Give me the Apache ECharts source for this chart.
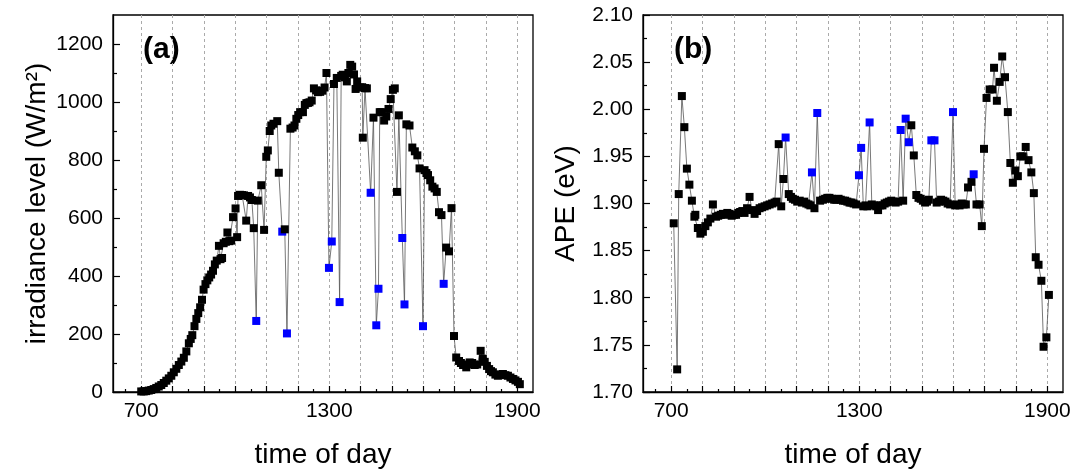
<!DOCTYPE html>
<html><head><meta charset="utf-8">
<script src="https://cdn.jsdelivr.net/npm/echarts@6/dist/echarts.min.js"></script>
<style>html,body{margin:0;padding:0;background:#fff}#c{width:1081px;height:476px}</style>
</head><body><div id="c"></div>
<script>
// ---------- Panel (a): irradiance level ----------
const irrBlackTime = [700,708,716,724,732,740,748,756,764,772,780,788,796,804,812,820,828,836,844,852,858,863,870,876,882,888,894,899,905,911,917,923,929,935,941,948,953,958,963,970,975,981,987,993,1001,1006,1009,1015,1022,1028,1035,1041,1047,1053,1059,1072,1083,1092,1099,1104,1110,1115,1122,1134,1139,1158,1176,1183,1189,1195,1201,1207,1216,1222,1227,1232,1237,1244,1251,1258,1264,1271,1278,1285,1291,1315,1324,1338,1343,1350,1356,1361,1367,1373,1379,1384,1389,1398,1405,1407,1414,1420,1441,1461,1466,1475,1482,1489,1496,1503,1509,1516,1522,1546,1556,1565,1573,1581,1588,1604,1610,1615,1622,1629,1636,1643,1650,1658,1673,1682,1690,1698,1705,1714,1720,1727,1737,1743,1748,1756,1764,1772,1783,1790,1796,1803,1810,1816,1822,1830,1838,1846,1854,1862,1870,1878,1886,1894,1902,1908];
const irrBlackValue = [2,2,3,5,7,10,14,19,24,31,39,47,56,68,80,93,105,118,140,168,183,196,227,252,272,292,318,353,372,385,395,405,418,440,453,504,458,462,513,518,550,520,522,603,633,534,676,680,679,678,591,676,671,662,565,660,713,559,811,833,900,919,925,934,756,561,908,912,919,942,955,965,965,990,996,997,999,1005,1047,1040,1034,1035,1039,1050,1100,1062,1083,1090,1094,1085,1071,1100,1128,1122,1095,1045,1071,1050,1051,877,1048,1047,946,965,965,936,950,976,1010,1042,1047,690,954,923,919,843,830,816,771,765,755,748,730,708,702,690,620,610,498,485,634,193,119,107,100,93,85,95,102,100,93,95,142,115,104,90,79,72,68,60,56,60,62,58,56,50,45,40,35,27];
const irrBlueTime  = [1067,1150,1165,1299,1308,1333,1432,1450,1457,1533,1540,1599,1665];
const irrBlueValue = [245,553,202,428,519,310,687,230,356,531,302,227,373];

// ---------- Panel (b): APE ----------
const apeBlackTime = [708,719,724,734,742,750,758,766,774,777,785,793,801,809,817,825,833,843,850,858,865,872,879,886,893,900,907,914,920,927,934,942,950,958,966,974,982,990,998,1006,1014,1022,1030,1036,1043,1051,1058,1075,1082,1088,1095,1102,1110,1117,1124,1131,1138,1144,1157,1175,1184,1191,1198,1205,1212,1220,1227,1234,1241,1248,1255,1262,1269,1275,1282,1290,1313,1320,1326,1340,1347,1354,1360,1367,1374,1381,1388,1395,1402,1409,1416,1424,1440,1466,1474,1482,1489,1496,1503,1510,1516,1522,1547,1554,1561,1568,1575,1582,1590,1606,1613,1620,1627,1633,1640,1647,1658,1674,1684,1691,1698,1706,1716,1725,1730,1739,1748,1756,1765,1774,1782,1790,1798,1806,1814,1822,1831,1840,1849,1857,1863,1872,1881,1888,1897,1905];
const apeBlackValue = [1.879,1.724,1.910,2.014,1.981,1.937,1.920,1.903,1.886,1.888,1.874,1.868,1.870,1.876,1.880,1.884,1.899,1.886,1.887,1.888,1.889,1.888,1.890,1.889,1.887,1.888,1.888,1.890,1.891,1.892,1.890,1.895,1.907,1.893,1.889,1.892,1.895,1.896,1.897,1.898,1.899,1.900,1.901,1.902,1.963,1.897,1.926,1.910,1.907,1.905,1.904,1.902,1.903,1.901,1.902,1.900,1.899,1.898,1.895,1.903,1.904,1.905,1.906,1.906,1.905,1.904,1.904,1.905,1.904,1.903,1.903,1.902,1.901,1.901,1.900,1.899,1.897,1.898,1.897,1.899,1.898,1.897,1.893,1.898,1.898,1.900,1.901,1.902,1.903,1.902,1.901,1.902,1.903,1.983,1.951,1.909,1.906,1.905,1.903,1.901,1.902,1.904,1.901,1.902,1.904,1.903,1.902,1.900,1.899,1.898,1.899,1.898,1.900,1.899,1.899,1.917,1.923,1.899,1.899,1.876,1.958,2.012,2.021,2.021,2.044,2.009,2.029,2.056,2.034,1.997,1.943,1.922,1.935,1.929,1.950,1.950,1.960,1.946,1.933,1.911,1.843,1.835,1.818,1.748,1.758,1.803];
const apeBlueTime  = [1065,1149,1166,1299,1306,1333,1432,1448,1458,1530,1540,1599,1665];
const apeBlueValue = [1.970,1.933,1.996,1.930,1.959,1.986,1.978,1.990,1.965,1.967,1.967,1.997,1.931];

// ---------- Axis ticks / labels ----------
const xMajorTicks = [700,800,900,1000,1100,1200,1300,1400,1500,1600,1700,1800,1900];
const xMinorTicks = [650,750,850,950,1050,1150,1250,1350,1450,1550,1650,1750,1850];
const xTickLabels = [700,1300,1900];
const irrTicks = [0,200,400,600,800,1000,1200];
const irrMinorTicks = [100,300,500,700,900,1100];
const apeTicks = [1.70,1.75,1.80,1.85,1.90,1.95,2.00,2.05,2.10];
const apeMinorTicks = [1.725,1.775,1.825,1.875,1.925,1.975,2.025,2.075];

const FONT = 'Liberation Sans, Arial, sans-serif';
const BLACK = '#000000', BLUE = '#0000ff';

function mergePoints(bt, bv, ut, uv) {
  const pts = [];
  bt.forEach((t, i) => pts.push({t: t, v: bv[i], blue: false}));
  ut.forEach((t, i) => pts.push({t: t, v: uv[i], blue: true}));
  pts.sort((a, b) => a.t - b.t);
  return pts.map(p => ({value: [p.t, p.v], itemStyle: {color: p.blue ? BLUE : BLACK}}));
}

function xAxesFor(g) {
  return [
    {gridIndex: g, type: 'value', min: 610, max: 1950, position: 'bottom',
     axisLine: {show: true, onZero: false, lineStyle: {color: BLACK, width: 1.3}},
     axisTick: {show: true, inside: true, length: 6, customValues: xMajorTicks, lineStyle: {color: BLACK, width: 1.2}},
     axisLabel: {show: true, customValues: xTickLabels, fontSize: 21, color: BLACK, fontFamily: FONT, margin: 9,
                 formatter: v => String(Math.round(v))},
     splitLine: {show: true, lineStyle: {color: '#aaaaaa', width: 1, type: [3, 3]}},
     name: 'time of day', nameLocation: 'middle', nameGap: 49,
     nameTextStyle: {fontSize: 28, color: BLACK, fontFamily: FONT}},
    {gridIndex: g, type: 'value', min: 610, max: 1950, position: 'bottom',
     axisLine: {show: false},
     axisTick: {show: true, inside: true, length: 3, customValues: xMinorTicks, lineStyle: {color: BLACK, width: 1.2}},
     axisLabel: {show: false}, splitLine: {show: false}}
  ];
}

function yAxesFor(g, min, max, major, minor, name, fmt, gap) {
  return [
    {gridIndex: g, type: 'value', min: min, max: max, position: 'left',
     axisLine: {show: true, onZero: false, lineStyle: {color: BLACK, width: 1.3}},
     axisTick: {show: true, inside: true, length: 7, customValues: major, lineStyle: {color: BLACK, width: 1.2}},
     axisLabel: {show: true, customValues: major, fontSize: 21, color: BLACK, fontFamily: FONT, margin: 10, formatter: fmt},
     splitLine: {show: false},
     name: name, nameLocation: 'middle', nameGap: gap, nameRotate: 90,
     nameTextStyle: {fontSize: 28, color: BLACK, fontFamily: FONT}},
    {gridIndex: g, type: 'value', min: min, max: max, position: 'left',
     axisLine: {show: false},
     axisTick: {show: true, inside: true, length: 4, customValues: minor, lineStyle: {color: BLACK, width: 1.2}},
     axisLabel: {show: false}, splitLine: {show: false}}
  ];
}

const lineSeries = (xi, yi, data) => ({
  type: 'line', xAxisIndex: xi, yAxisIndex: yi, data: data,
  symbol: 'rect', symbolSize: 8, showSymbol: true, showAllSymbol: true,
  lineStyle: {color: '#555555', width: 0.8},
  itemStyle: {borderWidth: 0},
  emphasis: {disabled: true}, animation: false, z: 3
});

const chart = echarts.init(document.getElementById('c'), null, {renderer: 'canvas'});
chart.setOption({
  animation: false,
  backgroundColor: '#ffffff',
  grid: [
    {left: 113, top: 15, right: 548, bottom: 84, show: true, borderColor: BLACK, borderWidth: 1.3, backgroundColor: 'transparent'},
    {left: 643, top: 15, right: 18, bottom: 84, show: true, borderColor: BLACK, borderWidth: 1.3, backgroundColor: 'transparent'}
  ],
  xAxis: xAxesFor(0).concat(xAxesFor(1)),
  yAxis: yAxesFor(0, 0, 1300, irrTicks, irrMinorTicks, 'irradiance level (W/m²)', v => String(Math.round(v)), 62)
    .concat(yAxesFor(1, 1.70, 2.10, apeTicks, apeMinorTicks, 'APE (eV)', v => Number(v).toFixed(2), 63)),
  series: [
    lineSeries(0, 0, mergePoints(irrBlackTime, irrBlackValue, irrBlueTime, irrBlueValue)),
    lineSeries(2, 2, mergePoints(apeBlackTime, apeBlackValue, apeBlueTime, apeBlueValue))
  ],
  graphic: [
    {type: 'text', left: 143, top: 35, style: {text: '(a)', font: 'bold 30px ' + FONT, fill: BLACK}},
    {type: 'text', left: 674, top: 35, style: {text: '(b)', font: 'bold 30px ' + FONT, fill: BLACK}}
  ]
});
</script></body></html>
